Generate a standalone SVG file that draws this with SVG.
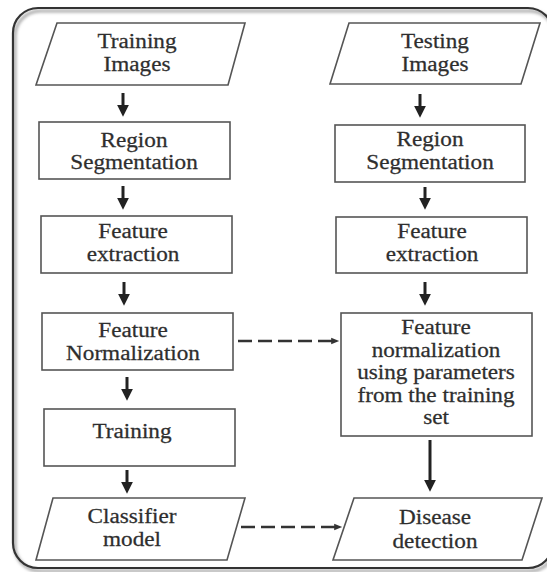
<svg xmlns="http://www.w3.org/2000/svg" width="547" height="572" viewBox="0 0 547 572">
<defs>
<style>
.box{fill:#fff;stroke:#555;stroke-width:1.6}
.t{font-family:'Liberation Serif','Times New Roman',serif;font-size:20px;fill:#2e2e2e;stroke:#2e2e2e;stroke-width:0.25;text-anchor:middle}
.arr{stroke:#222;stroke-width:3;fill:none}
.dash{stroke:#333;stroke-width:2.5;stroke-dasharray:14 6;fill:none}
</style>
<marker id="ah" markerUnits="userSpaceOnUse" markerWidth="12" markerHeight="12" viewBox="0 0 10 10" refX="1" refY="5" orient="auto">
<path d="M0,0 L10,5 L0,10 z" fill="#222"/>
</marker>
<marker id="ahs" markerUnits="userSpaceOnUse" markerWidth="9" markerHeight="8" viewBox="0 0 10 10" refX="1" refY="5" orient="auto">
<path d="M0,1 L10,5 L0,9 z" fill="#333"/>
</marker>
<filter id="sh" x="-5%" y="-5%" width="110%" height="110%">
<feGaussianBlur stdDeviation="1.5"/>
</filter>
</defs>
<rect width="547" height="572" fill="#fff"/>
<g id="frame">
<rect x="15" y="11" width="540" height="560" rx="25" fill="none" stroke="#aaa" stroke-width="3" filter="url(#sh)"/>
<rect x="13" y="8" width="540" height="560" rx="25" fill="none" stroke="#333" stroke-width="2.2"/>
</g>
<g id="training-images">
<polygon class="box" points="57,23 245,23 228,85 36,85"/>
<text class="t" transform="translate(137 48) scale(1.16 1)">Training</text>
<text class="t" transform="translate(137 71) scale(1.16 1)">Images</text>
</g>
<g id="region-seg-left">
<rect class="box" x="39" y="122" width="191" height="57"/>
<text class="t" transform="translate(134 147) scale(1.16 1)">Region</text>
<text class="t" transform="translate(134 169) scale(1.16 1)">Segmentation</text>
</g>
<g id="feat-ext-left">
<rect class="box" x="41" y="216" width="191" height="57"/>
<text class="t" transform="translate(133 238) scale(1.16 1)">Feature</text>
<text class="t" transform="translate(133 261) scale(1.16 1)">extraction</text>
</g>
<g id="feat-norm-left">
<rect class="box" x="42" y="313" width="191" height="57"/>
<text class="t" transform="translate(133 337) scale(1.16 1)">Feature</text>
<text class="t" transform="translate(133 360) scale(1.16 1)">Normalization</text>
</g>
<g id="training">
<rect class="box" x="44" y="409" width="191" height="57"/>
<text class="t" transform="translate(132 438) scale(1.16 1)">Training</text>
</g>
<g id="classifier">
<polygon class="box" points="53,498 245,498 227,560 36,560"/>
<text class="t" transform="translate(132 523) scale(1.16 1)">Classifier</text>
<text class="t" transform="translate(132 546) scale(1.16 1)">model</text>
</g>
<g id="testing-images">
<polygon class="box" points="349,23 540,23 521,84 330,84"/>
<text class="t" transform="translate(435 48) scale(1.16 1)">Testing</text>
<text class="t" transform="translate(435 71) scale(1.16 1)">Images</text>
</g>
<g id="region-seg-right">
<rect class="box" x="335" y="125" width="190" height="57"/>
<text class="t" transform="translate(430 146) scale(1.16 1)">Region</text>
<text class="t" transform="translate(430 169) scale(1.16 1)">Segmentation</text>
</g>
<g id="feat-ext-right">
<rect class="box" x="336" y="217" width="191" height="56"/>
<text class="t" transform="translate(432 238) scale(1.16 1)">Feature</text>
<text class="t" transform="translate(432 261) scale(1.16 1)">extraction</text>
</g>
<g id="feat-norm-right">
<rect class="box" x="341" y="313" width="191" height="123"/>
<text class="t" transform="translate(436 334) scale(1.16 1)">Feature</text>
<text class="t" transform="translate(436 357) scale(1.16 1)">normalization</text>
<text class="t" transform="translate(436 379) scale(1.16 1)">using parameters</text>
<text class="t" transform="translate(436 402) scale(1.16 1)">from the training</text>
<text class="t" transform="translate(436 424) scale(1.16 1)">set</text>
</g>
<g id="disease">
<polygon class="box" points="354,498 542,498 522,560 333,560"/>
<text class="t" transform="translate(435 524) scale(1.16 1)">Disease</text>
<text class="t" transform="translate(435 548) scale(1.16 1)">detection</text>
</g>
<g id="connectors">
<line class="arr" x1="123" y1="93" x2="123" y2="106" marker-end="url(#ah)"/>
<line class="arr" x1="123" y1="186" x2="123" y2="199" marker-end="url(#ah)"/>
<line class="arr" x1="124" y1="282" x2="124" y2="295" marker-end="url(#ah)"/>
<line class="arr" x1="127" y1="377" x2="127" y2="390" marker-end="url(#ah)"/>
<line class="arr" x1="127" y1="470" x2="127" y2="483" marker-end="url(#ah)"/>
<line class="arr" x1="420" y1="94" x2="420" y2="107" marker-end="url(#ah)"/>
<line class="arr" x1="425" y1="187" x2="425" y2="199" marker-end="url(#ah)"/>
<line class="arr" x1="425" y1="282" x2="425" y2="295" marker-end="url(#ah)"/>
<line class="arr" x1="430" y1="440" x2="430" y2="481" stroke-width="3.5" marker-end="url(#ah)"/>
<line class="dash" x1="238" y1="341" x2="332" y2="341" marker-end="url(#ahs)"/>
<line class="dash" x1="241" y1="527" x2="335" y2="527" marker-end="url(#ahs)"/>
</g>
</svg>
